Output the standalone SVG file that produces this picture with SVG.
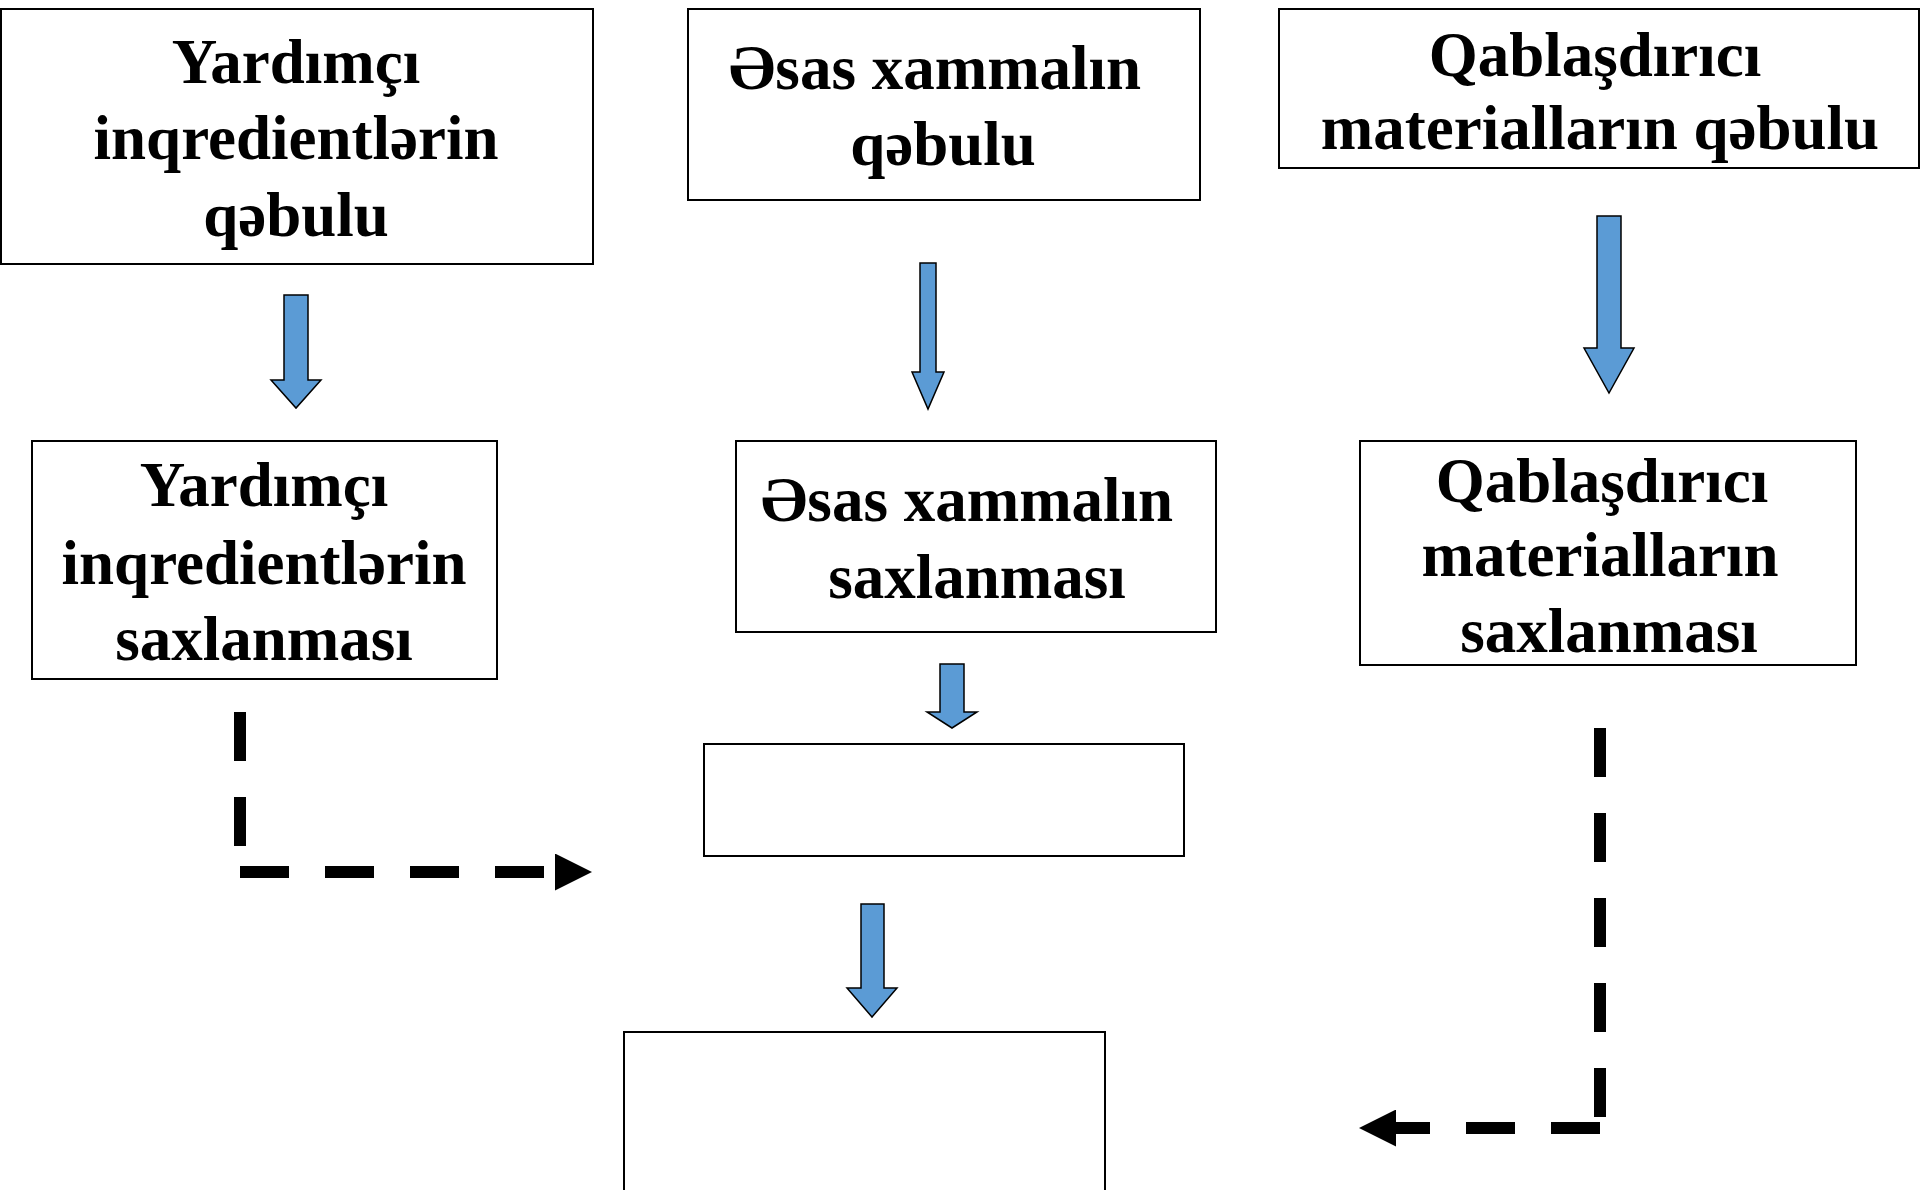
<svg xmlns="http://www.w3.org/2000/svg" width="1920" height="1190" viewBox="0 0 1920 1190">
  <style>
    .box { fill: #ffffff; stroke: #000000; stroke-width: 2; }
    .lbl { font-family: "Liberation Serif", "Times New Roman", serif; font-weight: bold; font-size: 63px; fill: #000000; text-anchor: middle; }
    .flow { fill: #5B9BD5; stroke: #000000; stroke-width: 1.5; stroke-linejoin: miter; }
    .dash { fill: none; stroke: #000000; stroke-width: 12; stroke-dasharray: 49 36; stroke-linecap: butt; }
  </style>
  <defs>
    <marker id="tri" markerUnits="userSpaceOnUse" markerWidth="37" markerHeight="37" viewBox="0 0 37 37" refX="0" refY="18.5" orient="auto">
      <path d="M0,0 L37,18.5 L0,37 Z" fill="#000000"/>
    </marker>
  </defs>
  <rect width="1920" height="1190" fill="#ffffff"/>

  <!-- top row: receiving -->
  <g id="receive-aux">
    <rect class="box" x="1" y="9" width="592" height="255"/>
    <text class="lbl"><tspan x="296" y="83">Yardımçı</tspan><tspan x="296" y="159">inqredientlərin</tspan><tspan x="296" y="236">qəbulu</tspan></text>
  </g>
  <g id="receive-main">
    <rect class="box" x="688" y="9" width="512" height="191"/>
    <text class="lbl"><tspan x="935" y="89">Əsas xammalın</tspan><tspan x="943" y="165">qəbulu</tspan></text>
  </g>
  <g id="receive-pack">
    <rect class="box" x="1279" y="9" width="640" height="159"/>
    <text class="lbl"><tspan x="1595" y="76">Qablaşdırıcı</tspan><tspan x="1600" y="149">materialların qəbulu</tspan></text>
  </g>

  <!-- middle row: storage -->
  <g id="store-aux">
    <rect class="box" x="32" y="441" width="465" height="238"/>
    <text class="lbl"><tspan x="264" y="506">Yardımçı</tspan><tspan x="264" y="584">inqredientlərin</tspan><tspan x="264" y="660">saxlanması</tspan></text>
  </g>
  <g id="store-main">
    <rect class="box" x="736" y="441" width="480" height="191"/>
    <text class="lbl"><tspan x="967" y="521">Əsas xammalın</tspan><tspan x="977" y="598">saxlanması</tspan></text>
  </g>
  <g id="store-pack">
    <rect class="box" x="1360" y="441" width="496" height="224"/>
    <text class="lbl"><tspan x="1602" y="502">Qablaşdırıcı</tspan><tspan x="1600" y="576">materialların</tspan><tspan x="1609" y="652">saxlanması</tspan></text>
  </g>

  <!-- lower steps -->
  <g id="step-3">
    <rect class="box" x="704" y="744" width="480" height="112"/>
  </g>
  <g id="step-4">
    <rect class="box" x="624" y="1032" width="481" height="200"/>
  </g>

  <!-- connectors -->
  <g id="connectors">
    <path class="flow" d="M284,295 H308 V380 H321 L296,408 L271,380 H284 Z"/>
    <path class="flow" d="M920,263 H936 V372 H944 L928,409 L912,372 H920 Z"/>
    <path class="flow" d="M1597,216 H1621 V348 H1634 L1609,393 L1584,348 H1597 Z"/>
    <path class="flow" d="M940,664 H964 V712 H977 L952,728 L927,712 H940 Z"/>
    <path class="flow" d="M861,904 H884 V988 H897 L872,1017 L847,988 H861 Z"/>

    <line class="dash" x1="240" y1="712" x2="240" y2="872"/>
    <line class="dash" x1="240" y1="872" x2="555" y2="872" marker-end="url(#tri)"/>

    <line class="dash" x1="1600" y1="728" x2="1600" y2="1128"/>
    <line class="dash" x1="1600" y1="1128" x2="1396" y2="1128" marker-end="url(#tri)"/>
  </g>
</svg>
